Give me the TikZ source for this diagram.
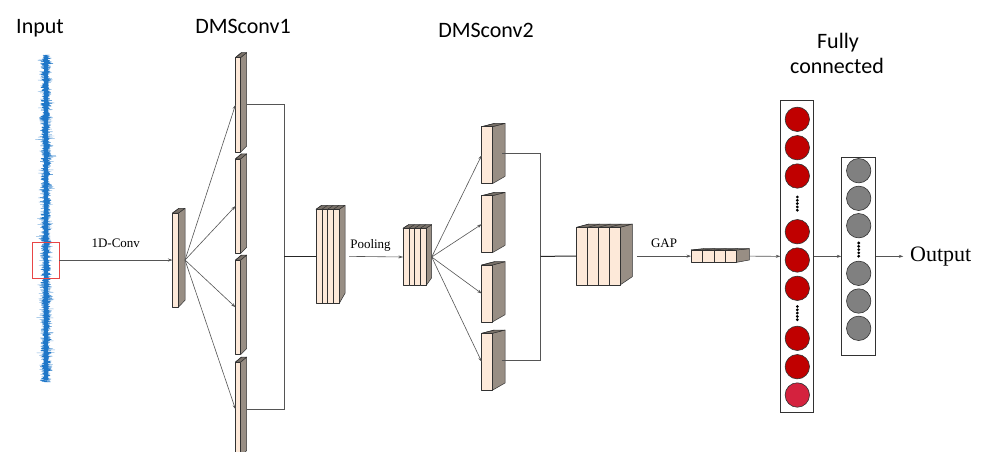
\documentclass[tikz,border=0pt]{standalone}
\usepackage{fontspec}
\setmainfont{Liberation Serif}
\newfontfamily\headfont{Carlito}
\usetikzlibrary{arrows.meta,calc}
\definecolor{frontc}{RGB}{253,233,217}
\definecolor{sidec}{RGB}{152,142,132}
\definecolor{topc}{RGB}{120,112,104}
\definecolor{edgec}{RGB}{50,50,50}
\definecolor{linec}{RGB}{85,85,85}
\definecolor{sigc}{RGB}{31,119,200}
\definecolor{boxred}{RGB}{232,70,70}
\definecolor{nred}{RGB}{192,0,0}
\definecolor{nred2}{RGB}{212,34,62}
\definecolor{ngray}{RGB}{128,128,128}
\tikzset{
  edge/.style={draw=edgec,line width=0.5pt,line join=round},
  frontface/.style={edge,fill=frontc},
  sideface/.style={edge,fill=sidec},
  topface/.style={edge,fill=topc},
  ghost/.style={draw=none,inner sep=0pt,outer sep=0pt},
  conn/.style={draw=linec,line width=0.6pt},
  arr/.style={conn,-{Stealth[length=4.5pt,width=3pt]}},
  joinline/.style={draw=black!85,line width=1pt},
  head/.style={font=\headfont\fontsize{22}{26}\selectfont,anchor=base,inner sep=0pt},
  lab/.style={font=\fontsize{13}{15}\selectfont,anchor=base,inner sep=0pt},
  fcbox/.style={draw=edgec,line width=0.8pt,fill=white,inner sep=0pt},
  rneuron/.style={circle,draw=edgec,line width=0.6pt,fill=nred,minimum size=24.4pt,inner sep=0pt},
  gneuron/.style={circle,draw=edgec,line width=0.6pt,fill=ngray,minimum size=24.4pt,inner sep=0pt},
  dotc/.style={circle,fill=black,minimum size=3.1pt,inner sep=0pt},
}
% name, x, y, w, h, dx, dytop, dybottom, slices
\newcommand\cub[9]{%
  \draw[sideface] ({#2+#4},#3) -- ++(#6,-#7) -- ({#2+#4+#6},{#3+#5-#8}) -- ({#2+#4},{#3+#5}) -- cycle;
  \draw[topface] (#2,#3) -- ++(#6,-#7) -- ({#2+#4+#6},{#3-#7}) -- ({#2+#4},#3) -- cycle;
  \foreach \i in {1,...,#9}{
    \draw[frontface] ({#2+(\i-1)*#4/#9},#3) rectangle ({#2+\i*#4/#9},{#3+#5});
    \draw[edge] ({#2+(\i-1)*#4/#9},#3) -- ++(#6,-#7);
  }
  \node[ghost,minimum width=#4pt,minimum height=#5pt,anchor=north west] (#1) at (#2,#3) {};
  \coordinate (#1-r) at ({#2+#4+#6},{#3+#5/2});
}
\begin{document}
\begin{tikzpicture}[x=1pt,y=-1pt]
\useasboundingbox (0,0) rectangle (982,451);
\fill[white] (0,0) rectangle (982,451);

% headers
\node[head] (hin) at (40,33.3) {Input};
\node[head] (hd1) at (243,33.3) {DMSconv1};
\node[head] (hd2) at (486,37.3) {DMSconv2};
\node[head] (hfc1) at (838,48.3) {Fully};
\node[head] (hfc2) at (837,73.3) {connected};

% input signal
\pgfmathsetseed{11}
\draw[sigc!55,line width=0.4pt,line join=round] plot[domain=55:382,samples=1200,variable=\t]
  ({46+(2*rnd-1)*(4+7*rnd^2)*(0.6+0.4*abs(sin(\t*11)))},{\t});
\draw[sigc,line width=0.45pt,line join=round] plot[domain=55:382,samples=1600,variable=\t]
  ({46+(2*rnd-1)*(3.5+4*rnd^1.5)*(0.65+0.35*abs(sin(\t*13)))},{\t});
\draw[sigc,line width=3.5pt] (46,57) -- (46,380);
\node[draw=boxred,line width=0.8pt,minimum width=27pt,minimum height=36pt,inner sep=0pt] (win) at (45.5,260) {};

% first conv
\cub{c0}{172.5}{213}{6}{94}{6.5}{4.7}{6.7}{1}
\draw[arr] (win.east) -- (c0.west);
\node[lab] (l1) at (115.8,247.7) {1D-Conv};

% DMSconv1 branches
\cub{da}{235.5}{57.5}{5.2}{94.5}{6}{5}{6}{1}
\cub{db}{235.5}{158.8}{5.2}{94.5}{6}{5}{6}{1}
\cub{dc}{235.5}{260}{5.2}{94.5}{6}{5}{6}{1}
\cub{dd}{235.5}{362}{5.2}{94.5}{6}{5}{6}{1}
\foreach \b in {da,db,dc,dd}{\draw[arr] (c0-r) -- (\b.west);}
\coordinate (j1) at (284,256.3);
\draw[conn] (da-r) -| (j1);
\draw[conn] (dd-r) -| (j1);

% concat 1
\cub{k1}{316}{209.3}{23.3}{94}{5.7}{4}{10}{4}
\draw[joinline] (j1) -- (k1.west);

% pooling
\cub{pl}{403}{228.3}{23}{57.4}{5.7}{3.7}{8}{4}
\draw[arr,shorten <=4pt] (k1-r) -- (pl.west);
\node[lab] (l2) at (370.5,248.3) {Pooling};

% DMSconv2 branches
\cub{ea}{481.7}{126.7}{10.6}{57}{12.7}{3.3}{7.3}{1}
\cub{eb}{481.7}{195.7}{10.6}{57}{12.7}{3.3}{7.3}{1}
\cub{ec}{481.7}{265}{10.6}{57}{12.7}{3.3}{7.3}{1}
\cub{ed}{481.7}{333.3}{10.6}{57}{12.7}{3.3}{7.3}{1}
\foreach \b in {ea,eb,ec,ed}{\draw[arr] (pl-r) -- (\b.west);}
\coordinate (j2) at (540.7,256.3);
\draw[conn] ($(ea-r)+(-3,-2)$) -| (j2);
\draw[conn] ($(ed-r)+(-3,-2)$) -| (j2);

% concat 2
\cub{k2}{576.7}{227.3}{43.3}{57.7}{12.3}{3.3}{8.3}{4}
\draw[joinline] (j2) -- (k2.west);

% GAP
\cub{gp}{691}{250}{45.7}{12.3}{12.6}{1.3}{2.3}{4}
\draw[arr,shorten <=4.5pt] (k2-r) -- (gp.west);
\node[lab] (l3) at (664,247.7) {GAP};

% fully connected
\node[fcbox,minimum width=32.6pt,minimum height=312.7pt] (fc1) at (797,256.35) {};
\node[fcbox,minimum width=34pt,minimum height=197.3pt] (fc2) at (858.7,256.35) {};
\draw[arr] (gp-r) -- (fc1.west);
\draw[arr] (fc1.east) -- (fc2.west);

\node[rneuron] (r1) at (797.3,119.3) {};
\node[rneuron] (r2) at (797.3,147.7) {};
\node[rneuron] (r3) at (797.3,176) {};
\node[rneuron] (r4) at (797.3,231.7) {};
\node[rneuron] (r5) at (797.3,260) {};
\node[rneuron] (r6) at (797.3,288.3) {};
\node[rneuron] (r7) at (797.3,338.3) {};
\node[rneuron] (r8) at (797.3,366.7) {};
\node[rneuron,fill=nred2] (r9) at (797.3,395) {};
\foreach \k in {0,...,4}{
  \node[dotc] (ra\k) at (797.3,{197+\k*3.3}) {};
  \node[dotc] (rb\k) at (797.3,{306.5+\k*3.3}) {};
  \node[dotc] (ga\k) at (858.7,{243+\k*3.3}) {};
}
\node[gneuron] (g1) at (858.7,170.7) {};
\node[gneuron] (g2) at (858.7,198.3) {};
\node[gneuron] (g3) at (858.7,225.7) {};
\node[gneuron] (g4) at (858.7,273.3) {};
\node[gneuron] (g5) at (858.7,301) {};
\node[gneuron] (g6) at (858.7,328.3) {};

% output
\node[font=\fontsize{22}{26}\selectfont,anchor=base west,inner xsep=6.7pt,inner ysep=0pt] (out) at (903.3,261.7) {Output};
\draw[arr] (fc2.east) -- (fc2.east -| out.west);
\end{tikzpicture}
\end{document}
